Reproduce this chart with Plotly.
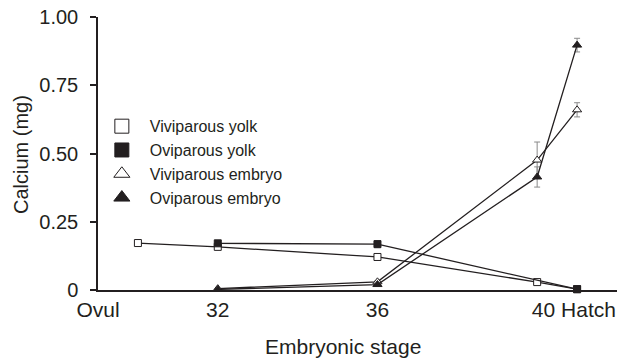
import plotly.graph_objects as go

# ---- data ----
vy_stage = [30, 32, 36, 40, 41]
vy_ca = [0.172, 0.158, 0.121, 0.029, 0.003]
vy_err = [0.0, 0.004, 0.004, 0.004, 0.0]

oy_stage = [32, 36, 41]
oy_ca = [0.171, 0.168, 0.003]
oy_err = [0.005, 0.013, 0.0]

ve_stage = [32, 36, 40, 41]
ve_ca = [0.005, 0.030, 0.476, 0.660]
ve_err = [0.0, 0.004, 0.066, 0.026]

oe_stage = [32, 36, 40, 41]
oe_ca = [0.002, 0.020, 0.414, 0.897]
oe_err = [0.0, 0.004, 0.037, 0.025]

x_tickvals = [29, 32, 36, 40.92]
x_ticktext = ["Ovul", "32", "36", "40 Hatch"]
y_tickvals = [0, 0.25, 0.5, 0.75, 1.0]
y_ticktext = ["0", "0.25", "0.50", "0.75", "1.00"]

INK = "#231f20"
FONT = "Liberation Sans, Arial, Helvetica, sans-serif"
ERRC = "#8a8a8a"

series = [
    ("Viviparous yolk", vy_stage, vy_ca, vy_err, "square", "white", 7),
    ("Oviparous yolk", oy_stage, oy_ca, oy_err, "square", INK, 7),
    ("Viviparous embryo", ve_stage, ve_ca, ve_err, "triangle-up", "white", 8),
    ("Oviparous embryo", oe_stage, oe_ca, oe_err, "triangle-up", INK, 8),
]

fig = go.Figure()

for name, xs, ys, es, sym, fill, sz in series:
    fig.add_trace(go.Scatter(
        x=xs, y=ys, mode="lines+markers", name=name, showlegend=False,
        line=dict(color=INK, width=1.3),
        marker=dict(symbol=sym, size=sz, color=fill, line=dict(color=INK, width=1)),
        error_y=dict(type="data", array=es, visible=True, color=ERRC, thickness=1, width=3),
        cliponaxis=False,
    ))

# legend-only entries (markers without lines, as in the reference)
for name, xs, ys, es, sym, fill, sz in series:
    fig.add_trace(go.Scatter(
        x=[None], y=[None], mode="markers", name=name, showlegend=True,
        marker=dict(symbol=sym, size=14, color=fill, line=dict(color=INK, width=1)),
    ))

fig.update_layout(
    width=619, height=360,
    margin=dict(l=98, r=2, t=17, b=70, autoexpand=False),
    paper_bgcolor="white", plot_bgcolor="white",
    font=dict(family=FONT, color=INK, size=20),
    showlegend=True,
    legend=dict(
        x=-0.008, y=0.662, xanchor="left", yanchor="top",
        font=dict(size=16, color=INK), itemwidth=46,
        bgcolor="rgba(0,0,0,0)", tracegroupgap=0,
    ),
    xaxis=dict(
        range=[29, 42], showgrid=False, zeroline=False,
        showline=True, linecolor=INK, linewidth=1.5,
        tickmode="array", tickvals=x_tickvals, ticktext=x_ticktext,
        ticks="", tickfont=dict(size=21), ticklabelstandoff=0,
    ),
    yaxis=dict(
        range=[0, 1.0], showgrid=False, zeroline=False,
        showline=True, linecolor=INK, linewidth=1.5,
        tickmode="array", tickvals=y_tickvals, ticktext=y_ticktext,
        ticks="outside", ticklen=6, tickwidth=1.5, tickcolor=INK,
        tickfont=dict(size=20), ticklabelstandoff=8,
    ),
    annotations=[
        dict(text="Embryonic stage", xref="paper", yref="paper",
             x=0.473, y=-0.206, xanchor="center", yanchor="middle",
             showarrow=False, font=dict(size=21, color=INK)),
        dict(text="Calcium (mg)", xref="paper", yref="paper",
             x=-0.148, y=0.495, xanchor="center", yanchor="middle",
             textangle=-90, showarrow=False, font=dict(size=20, color=INK)),
    ],
)

fig.write_html(
    "out.html",
    config={"displayModeBar": False},
    post_script="document.body.style.margin='0';document.body.style.padding='0';",
)
